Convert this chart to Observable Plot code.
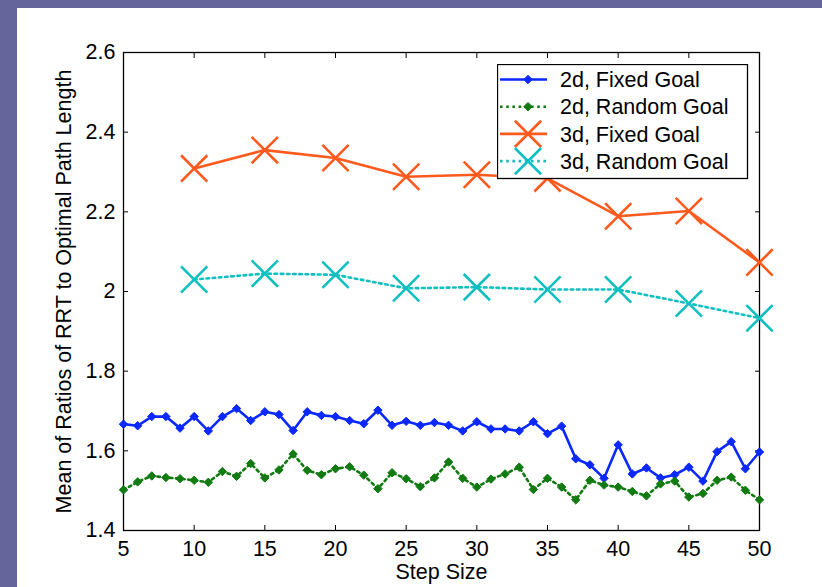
<!DOCTYPE html>
<html>
<head>
<meta charset="utf-8">
<script src="https://cdn.jsdelivr.net/npm/d3@7"></script>
<script src="https://cdn.jsdelivr.net/npm/@observablehq/plot@0.6"></script>
<style>
html, body { margin: 0; padding: 0; width: 822px; height: 587px; overflow: hidden; background: #65659b; }
#wrap { position: absolute; left: 17px; top: 8px; width: 805px; height: 579px; background: #ffffff; }
#legend { position: absolute; left: 480px; top: 56px; }
</style>
</head>
<body>
<div id="wrap"><div id="chart"></div><div id="legend"></div></div>
<script>
// ---- data ----
const steps2d = d3.range(5, 51);
const fixed2d = [1.667,1.663,1.686,1.686,1.657,1.686,1.650,1.686,1.706,1.676,
                 1.698,1.691,1.651,1.698,1.689,1.686,1.676,1.668,1.702,1.664,
                 1.674,1.664,1.671,1.664,1.650,1.673,1.655,1.655,1.650,1.673,
                 1.643,1.662,1.580,1.565,1.531,1.615,1.542,1.557,1.532,1.540,
                 1.559,1.524,1.598,1.623,1.555,1.597];
const random2d = [1.502,1.522,1.537,1.533,1.530,1.526,1.521,1.548,1.536,1.568,
                  1.532,1.552,1.592,1.551,1.540,1.555,1.560,1.539,1.505,1.545,
                  1.530,1.510,1.532,1.572,1.531,1.509,1.529,1.542,1.559,1.503,
                  1.531,1.509,1.477,1.526,1.514,1.509,1.498,1.487,1.517,1.524,
                  1.484,1.493,1.526,1.534,1.501,1.477];
const steps3d = [10, 15, 20, 25, 30, 35, 40, 45, 50];
const fixed3d = [2.309, 2.355, 2.335, 2.288, 2.293, 2.284, 2.189, 2.202, 2.073];
const random3d = [2.030, 2.045, 2.042, 2.008, 2.011, 2.005, 2.005, 1.970, 1.933];
const xTicks = [5, 10, 15, 20, 25, 30, 35, 40, 45, 50];
const yTicks = [1.4, 1.6, 1.8, 2.0, 2.2, 2.4, 2.6];
const seriesNames = ["2d, Fixed Goal", "2d, Random Goal", "3d, Fixed Goal", "3d, Random Goal"];
const xTitle = "Step Size";
const yTitle = "Mean of Ratios of RRT to Optimal Path Length";

// ---- styles ----
const FONT = "'Liberation Sans', Arial, Helvetica, sans-serif";
const FS = 21.5;
const cBlue = "#0a28ff", cGreen = "#117a11", cOrange = "#ff5a1e", cCyan = "#10bfc0";
const LW = 2.6;
const DOT = "2.6,3.6";

const chart = Plot.plot({
  width: 805, height: 579,
  marginLeft: 106, marginTop: 44, marginRight: 63, marginBottom: 57,
  style: { fontFamily: FONT, fontSize: FS + "px", color: "black", background: "white", overflow: "visible" },
  x: { domain: [5, 50] },
  y: { domain: [1.4, 2.6] },
  marks: [
    Plot.axisX(xTicks, { anchor: "bottom", tickSize: -5, tickPadding: 15, tickFormat: d => String(d), label: null, stroke: "black" }),
    Plot.axisX(xTicks, { anchor: "top", tickSize: -5, tickFormat: () => "", label: null, stroke: "black" }),
    Plot.axisY(yTicks, { anchor: "left", tickSize: -5, tickPadding: 13, tickFormat: d => String(+d.toFixed(1)), label: null, stroke: "black" }),
    Plot.axisY(yTicks, { anchor: "right", tickSize: -5, tickFormat: () => "", label: null, stroke: "black" }),
    Plot.frame({ stroke: "black", strokeWidth: 1.3 }),
    // 2d fixed
    Plot.line(fixed2d, { x: steps2d, y: fixed2d, stroke: cBlue, strokeWidth: LW }),
    Plot.dot(fixed2d, { x: steps2d, y: fixed2d, symbol: "diamond2", r: 3.8, fill: cBlue, stroke: cBlue, strokeWidth: 1 }),
    // 2d random
    Plot.line(random2d, { x: steps2d, y: random2d, stroke: cGreen, strokeWidth: LW, strokeDasharray: DOT }),
    Plot.dot(random2d, { x: steps2d, y: random2d, symbol: "diamond2", r: 3.8, fill: cGreen, stroke: cGreen, strokeWidth: 1 }),
    // 3d fixed
    Plot.line(fixed3d, { x: steps3d, y: fixed3d, stroke: cOrange, strokeWidth: LW }),
    Plot.dot(fixed3d, { x: steps3d, y: fixed3d, symbol: "times", r: 12, stroke: cOrange, strokeWidth: LW }),
    // 3d random
    Plot.line(random3d, { x: steps3d, y: random3d, stroke: cCyan, strokeWidth: LW, strokeDasharray: DOT }),
    Plot.dot(random3d, { x: steps3d, y: random3d, symbol: "times", r: 12, stroke: cCyan, strokeWidth: LW }),
    // titles
    Plot.text([xTitle], { frameAnchor: "bottom", dy: 42, lineAnchor: "middle", textAnchor: "middle", fill: "black", fontSize: FS }),
    Plot.text([yTitle], { frameAnchor: "left", dx: -59, rotate: -90, lineAnchor: "middle", textAnchor: "middle", fill: "black", fontSize: FS })
  ]
});
document.getElementById("chart").appendChild(chart);

// ---- legend (drawn on top of the plot) ----
const lg = d3.select("#legend").append("svg")
  .attr("width", 252).attr("height", 116)
  .style("font-family", FONT).style("font-size", FS + "px");
lg.append("rect").attr("x", 0.5).attr("y", 0.5).attr("width", 250).attr("height", 114)
  .attr("fill", "white").attr("stroke", "black").attr("stroke-width", 1.3);
const legendStyles = [
  { c: cBlue, dash: null, m: "dot" },
  { c: cGreen, dash: DOT, m: "dot" },
  { c: cOrange, dash: null, m: "x" },
  { c: cCyan, dash: DOT, m: "x" }
];
seriesNames.forEach((name, i) => {
  const s = legendStyles[i];
  const cy = 15.5 + i * 27.2;
  const g = lg.append("g");
  const ln = g.append("line").attr("x1", 3).attr("x2", 50).attr("y1", cy).attr("y2", cy)
    .attr("stroke", s.c).attr("stroke-width", LW);
  if (s.dash) ln.attr("stroke-dasharray", s.dash);
  if (s.m === "dot") {
    g.append("path").attr("d", d3.symbol(d3.symbolDiamond2, Math.PI * 3.8 * 3.8)())
      .attr("transform", `translate(31,${cy})`).attr("fill", s.c).attr("stroke", s.c);
  } else {
    g.append("path").attr("d", d3.symbol(d3.symbolTimes, Math.PI * 12 * 12)())
      .attr("transform", `translate(31,${cy})`).attr("fill", "none").attr("stroke", s.c).attr("stroke-width", LW);
  }
  g.append("text").attr("x", 63).attr("y", cy).attr("dy", "0.36em").attr("fill", "black").text(name);
});
</script>
</body>
</html>
